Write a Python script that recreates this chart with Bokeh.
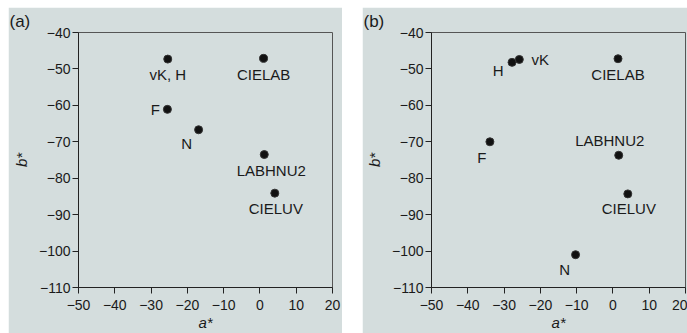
from bokeh.plotting import figure
from bokeh.layouts import row
from bokeh.models import Range1d, FixedTicker, ColumnDataSource
from bokeh.core.properties import value
from bokeh.embed import file_html
from bokeh.resources import INLINE

# ---- data ----
names_a = ["vK, H", "CIELAB", "F", "N", "LABHNU2", "CIELUV"]
astar_a = [-25.4, 1.0, -25.5, -16.9, 1.2, 4.1]
bstar_a = [-47.3, -47.1, -61.1, -66.7, -73.5, -84.1]

names_b = ["H", "vK", "CIELAB", "F", "LABHNU2", "CIELUV", "N"]
astar_b = [-27.8, -25.8, 1.4, -33.9, 1.6, 4.1, -10.3]
bstar_b = [-48.2, -47.4, -47.2, -70.0, -73.7, -84.3, -101.0]

x_ticks = [-50, -40, -30, -20, -10, 0, 10, 20]
x_tick_labels = ["\u221250", "\u221240", "\u221230", "\u221220", "\u221210", "0", "10", "20"]
y_ticks = [-110, -100, -90, -80, -70, -60, -50, -40]
y_tick_labels = ["\u2212110", "\u2212100", "\u221290", "\u221280", "\u221270", "\u221260", "\u221250", "\u221240"]

panel_titles = ["(a)", "(b)"]
x_label = "a*"
y_label = "b*"

# label offsets in pixels (style)
off_a_x = [0, 0, -12, -12, 7, 1]
off_a_y = [15, 16, 0, 14, 16, 15]
off_b_x = [-14, 21, 0, -8, -9, 1, -11]
off_b_y = [8, 0, 16, 16, -15, 15, 15]

BG = "#d4dddd"
FONT = "Liberation Sans"


def make_panel(title, names, xs, ys, ox, oy, width, left, right, margin):
    p = figure(width=width, height=326, output_backend="svg", toolbar_location=None,
               x_range=Range1d(-50, 20), y_range=Range1d(-110, -40),
               min_border_left=left, min_border_right=right,
               min_border_top=25, min_border_bottom=46, margin=margin)
    p.background_fill_color = BG
    p.border_fill_color = BG
    p.outline_line_color = "#555555"
    p.outline_line_width = 1
    p.grid.visible = False

    p.title.text = title
    p.title.align = "left"
    p.title.offset = -left + 1
    p.title.standoff = 3
    p.title.text_font = FONT
    p.title.text_font_size = "17px"
    p.title.text_font_style = "normal"
    p.title.text_color = "#1a1a1a"

    for ax, ticks, labels in ((p.xaxis[0], x_ticks, x_tick_labels), (p.yaxis[0], y_ticks, y_tick_labels)):
        ax.ticker = FixedTicker(ticks=ticks)
        ax.major_label_overrides = {t: l for t, l in zip(ticks, labels)}
        ax.minor_tick_line_color = None
        ax.major_tick_in = 0
        ax.major_tick_out = 6
        ax.axis_line_color = "#222222"
        ax.major_tick_line_color = "#222222"
        ax.major_label_text_font = FONT
        ax.major_label_text_font_size = "14px"
        ax.major_label_text_color = "#1a1a1a"
        ax.axis_label_text_font = FONT
        ax.axis_label_text_font_size = "15px"
        ax.axis_label_text_font_style = "italic"
        ax.axis_label_text_color = "#1a1a1a"
    p.xaxis.axis_label = x_label
    p.yaxis.axis_label = y_label
    p.xaxis.major_label_standoff = 6
    p.xaxis.axis_label_standoff = 1
    p.yaxis.major_label_standoff = 2
    p.yaxis.axis_label_standoff = 6

    src = ColumnDataSource(dict(x=xs, y=ys, name=names, ox=ox, oy=oy))
    p.scatter("x", "y", source=src, size=8, fill_color="#111111", line_color="#333333")
    p.text("x", "y", text="name", source=src, x_offset="ox", y_offset="oy",
           text_align="center", text_baseline="middle",
           text_font=value(FONT), text_font_size="15px", text_color="#1a1a1a")
    return p


pa = make_panel(panel_titles[0], names_a, astar_a, bstar_a, off_a_x, off_a_y,
                334, 70, 10, (7, 0, 0, 8))
pb = make_panel(panel_titles[1], names_b, astar_b, bstar_b, off_b_x, off_b_y,
                325, 69, 2, (7, 0, 0, 20))

layout = row(pa, pb)
open("out.html", "w").write(file_html(layout, INLINE))
